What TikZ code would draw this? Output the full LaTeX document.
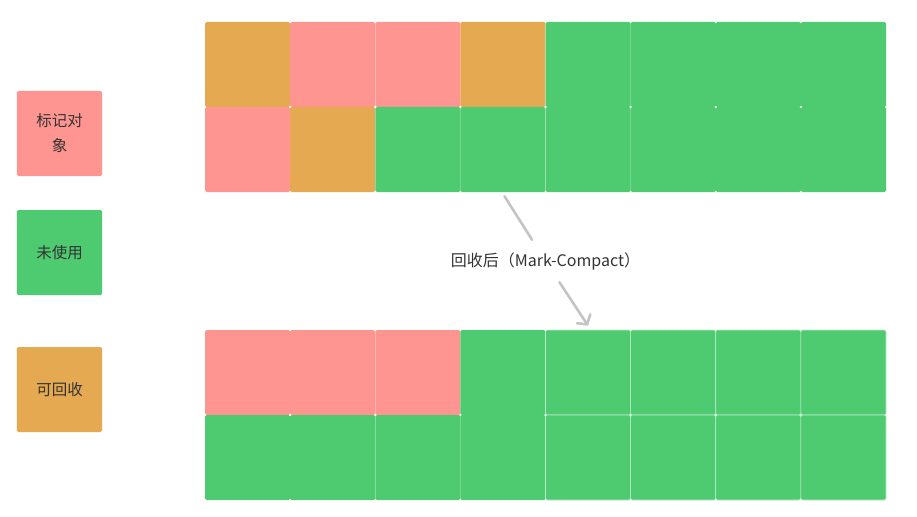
\documentclass[tikz,border=0pt]{standalone}
\usepackage{fontspec}
\setmainfont{Noto Sans CJK SC}
\usetikzlibrary{arrows.meta,calc}
\definecolor{markpink}{HTML}{FF9590}
\definecolor{freegreen}{HTML}{4ECB71}
\definecolor{gcorange}{HTML}{E4A951}
\definecolor{flowgray}{HTML}{C4C4C4}
\definecolor{txtgray}{HTML}{333333}

\begin{document}
\begin{tikzpicture}[x=1pt, y=-1pt,
	cell/.style={minimum width=85.1pt, minimum height=85pt, inner sep=0pt, rounded corners=1.5pt},
	legend/.style={cell, text=txtgray, align=center, font=\fontsize{15.5}{25}\selectfont},
	flow/.style={flowgray, line width=2.6pt, line cap=round}]
				\useasboundingbox (0,0) rectangle (917,516);
				% legend
				\node[legend, fill=markpink] (lmark) at (59.5,133.5) {标记对\\象};
				\node[legend, fill=freegreen] (lfree) at (59.5,252.5) {未使用};
				\node[legend, fill=gcorange] (lgc) at (59.5,389.5) {可回收};
				% heap before
				\foreach \c/\a/\b in {1/gcorange/markpink, 2/markpink/gcorange, 3/markpink/freegreen, 4/gcorange/freegreen,
					5/freegreen/freegreen, 6/freegreen/freegreen, 7/freegreen/freegreen, 8/freegreen/freegreen} {
					\node[cell, fill=\a] (t1\c) at (205+85.125*\c-42.56, 64.5) {};
					\node[cell, fill=\b] (t2\c) at (205+85.125*\c-42.56, 149.5) {};
				}
				% heap after
				\foreach \c/\a in {1/markpink, 2/markpink, 3/markpink, 4/freegreen} {
					\node[cell, fill=\a] (b1\c) at (205+85.125*\c-42.56, 372.5) {};
					\node[cell, fill=freegreen] (b2\c) at (205+85.125*\c-42.56, 457.5) {};
				}
				\foreach \c in {5,...,8} {
					\node[cell, fill=freegreen, draw=white!60!freegreen, line width=.6pt] (b1\c) at (205+85.125*\c-42.56, 372.5) {};
					\node[cell, fill=freegreen, draw=white!60!freegreen, line width=.6pt] (b2\c) at (205+85.125*\c-42.56, 457.5) {};
				}
				% arrow
				\node[text=txtgray, font=\fontsize{16}{18}\selectfont, inner xsep=0pt, minimum height=42pt] (lbl) at (545.5,261) {回收后（Mark-Compact）};
				\coordinate (from) at ($(t24.south)+(1.5,4)$);
				\coordinate (to) at ($(b15.north)+(0,-4)$);
				\draw[flow] (from) -- (lbl);
				\draw[flow, -{Straight Barb[length=6.5pt, width=16pt, line cap=round]}] (lbl) -- (to);
			\end{tikzpicture}
\end{document}
